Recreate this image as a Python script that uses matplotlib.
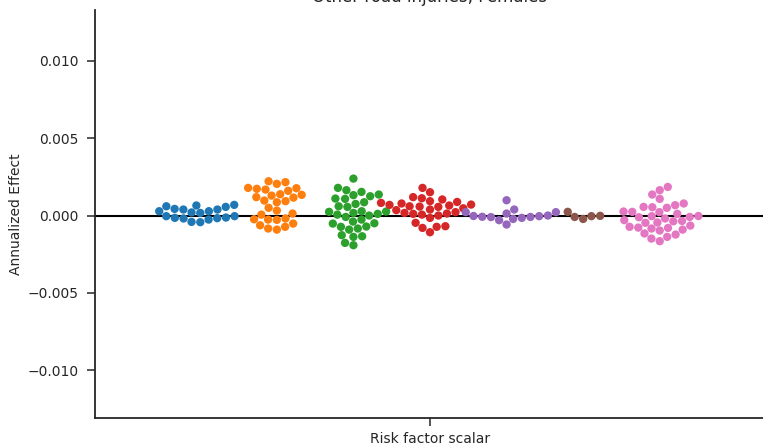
import matplotlib
matplotlib.use("Agg")
import matplotlib.pyplot as plt
import numpy as np
import pandas as pd
import seaborn as sns

# annualized effect per draw, one array per group
group_1 = [0.00028, 0.00020, -0.00004, 0.00065, 0.00056, 0.00039, 0.00017, 0.00039,
           0.00043, 0.00060, 0.00069, 0.00028, -0.00004, -0.00015, -0.00019,
           -0.00041, -0.00043, -0.00026, -0.00017, -0.00013]
group_2 = [0.00222, 0.00216, 0.00205, 0.00179, 0.00173, 0.00160, 0.00168, 0.00177,
           0.00138, 0.00129, 0.00119, 0.00134, 0.00116, 0.00097, 0.00086, 0.00093,
           0.00050, 0.00032, -0.00026, -0.00019, -0.00024, 0.00006, 0.00013,
           -0.00028, -0.00063, -0.00084, -0.00091, -0.00073, -0.00052]
group_3 = [0.00239, 0.00179, 0.00164, 0.00136, 0.00132, 0.00153, 0.00125, 0.00108,
           0.00110, 0.00086, 0.00075, 0.00060, 0.00056, 0.00028, 0.00024, 0.00011,
           0.00000, -0.00009, 0.00006, 0.00017, 0.00026, -0.00026, -0.00039,
           -0.00052, -0.00073, -0.00050, -0.00071, -0.00091, -0.00084, -0.00127,
           -0.00138, -0.00134, -0.00177, -0.00192]
group_4 = [0.00179, 0.00151, 0.00119, 0.00104, 0.00112, 0.00088, 0.00071, 0.00065,
           0.00047, 0.00056, 0.00069, 0.00093, 0.00078, 0.00082, 0.00060, 0.00039,
           0.00017, 0.00013, 0.00006, -0.00015, 0.00000, 0.00011, 0.00022, 0.00035,
           0.00058, -0.00047, -0.00080, -0.00108, -0.00073, -0.00069]
group_5 = [0.00022, 0.00000, -0.00009, -0.00008, -0.00030, 0.00039, 0.00099,
           0.00013, -0.00058, -0.00022, -0.00015, -0.00010, -0.00004, 0.00022,
           -0.00003]
group_6 = [0.00024, -0.00009, -0.00022, -0.00004, -0.00002]
group_7 = [0.00185, 0.00164, 0.00136, 0.00108, 0.00078, 0.00067, 0.00050, 0.00054,
           0.00056, 0.00024, 0.00011, 0.00026, -0.00004, -0.00047, -0.00073,
           -0.00019, -0.00037, -0.00035, -0.00009, -0.00030, -0.00011, 0.00022,
           -0.00003, -0.00045, -0.00065, -0.00091, -0.00123, -0.00138, -0.00166,
           -0.00149, -0.00116, -0.00080, -0.00084, -0.00097, -0.00078]

groups = [group_1, group_2, group_3, group_4, group_5, group_6, group_7]
group_names = [f"group {i + 1}" for i in range(len(groups))]

df = pd.DataFrame({
    "x": "Risk factor scalar",
    "effect": np.concatenate(groups),
    "group": np.repeat(group_names, [len(g) for g in groups]),
})

sns.set_style("ticks")
fig = plt.figure(figsize=(7.63, 4.48), dpi=100)
ax = fig.add_axes([95 / 763, 30 / 448, 670 / 763, 408 / 448])

sns.swarmplot(data=df, x="x", y="effect", hue="group", dodge=True,
              palette="tab10", size=6, ax=ax, legend=False, warn_thresh=1.0)
ax.axhline(0, color="black", lw=1.5, zorder=0)

ax.set_ylim(-0.0131, 0.0133)
ax.set_xlim(-0.5, 0.5)
ax.set_yticks([-0.01, -0.005, 0, 0.005, 0.01])
ax.set_yticklabels(["\u22120.010", "\u22120.005", "0.000", "0.005", "0.010"])
ax.tick_params(labelsize=10, length=6, width=1.1, colors="#262626")
ax.tick_params(axis="y", pad=6)
ax.tick_params(axis="x", pad=4)
for s in ax.spines.values():
    s.set_linewidth(1.3)
    s.set_color("#262626")
ax.set_xlabel("")
ax.set_ylabel("Annualized Effect", fontsize=10, labelpad=3)
ax.set_title("Other road injuries, Females", fontsize=12)
sns.despine(ax=ax)

fig.savefig("out.png", dpi=100)
